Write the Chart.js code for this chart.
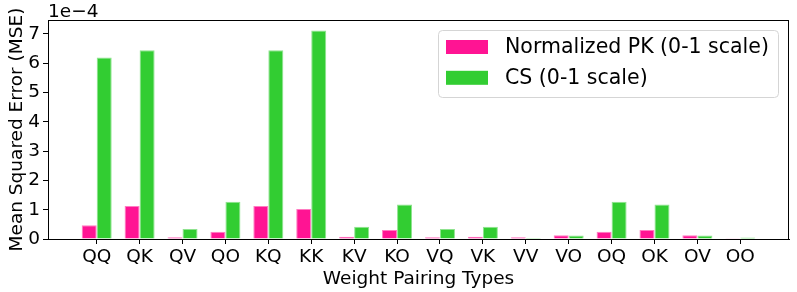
<!DOCTYPE html>
<html>
<head>
<meta charset="utf-8">
<script src="https://cdn.jsdelivr.net/npm/chart.js@4.4.1/dist/chart.umd.min.js"></script>
<style>
html,body{margin:0;padding:0;background:#fff;}
#wrap{width:797px;height:292px;}
</style>
</head>
<body>
<div id="wrap"><canvas id="c" width="797" height="292"></canvas></div>
<script>
// ---- data (values in units of 1e-4) ----
const categories = ["QQ","QK","QV","QO","KQ","KK","KV","KO","VQ","VK","VV","VO","OQ","OK","OV","OO"];
const pkValues = [0.47,1.13,0.06,0.25,1.13,1.02,0.08,0.31,0.06,0.08,0.06,0.13,0.25,0.31,0.13,0.005];
const csValues = [6.20,6.44,0.34,1.27,6.44,7.12,0.42,1.18,0.34,0.42,0.03,0.12,1.27,1.18,0.12,0.05];
const seriesLabels = ["Normalized PK (0-1 scale)", "CS (0-1 scale)"];
const yTickValues = [0,1,2,3,4,5,6,7];
const offsetText = "1e\u22124";
const xTitle = "Weight Pairing Types";
const yTitle = "Mean Squared Error (MSE)";

const FONT = "'DejaVu Sans', sans-serif";
const colors = ["#ff1493", "#32cd32"];
const edgeColors = ["#ff7cc2", "#8fe38f"];

const toPts = arr => arr.map((v, i) => ({x: i, y: v}));

const framePlugin = {
  id: 'frame',
  afterDraw(chart) {
    const {ctx, chartArea: a} = chart;
    ctx.save();
    ctx.strokeStyle = '#000';
    ctx.lineWidth = 1;
    ctx.strokeRect(a.left + 0.5, a.top + 0.5, a.right - a.left - 1, a.bottom - a.top);
    // offset text
    ctx.fillStyle = '#000';
    ctx.font = "18.5px " + FONT;
    ctx.textAlign = 'left';
    ctx.textBaseline = 'alphabetic';
    ctx.fillText(offsetText, a.left, a.top - 3);
    // legend
    const lx = 438.5, ly = 30.5, lw = 340, lh = 67;
    ctx.beginPath();
    ctx.roundRect(lx, ly, lw, lh, 4);
    ctx.fillStyle = 'rgba(255,255,255,0.8)';
    ctx.fill();
    ctx.strokeStyle = '#d5d5d5';
    ctx.stroke();
    ctx.font = "20.5px " + FONT;
    ctx.textBaseline = 'middle';
    chart.data.datasets.forEach((ds, i) => {
      const cy = 47 + i * 30.8;
      ctx.fillStyle = ds.backgroundColor;
      ctx.fillRect(446, cy - 7, 42, 14);
      ctx.fillStyle = '#000';
      ctx.fillText(ds.label, 505, cy + 1);
    });
    ctx.restore();
  }
};

new Chart(document.getElementById('c'), {
  type: 'bar',
  data: {
    datasets: [
      {label: seriesLabels[0], data: toPts(pkValues), backgroundColor: colors[0], borderColor: edgeColors[0], borderWidth: 1},
      {label: seriesLabels[1], data: toPts(csValues), backgroundColor: colors[1], borderColor: edgeColors[1], borderWidth: 1}
    ]
  },
  options: {
    responsive: false,
    devicePixelRatio: 1,
    animation: false,
    layout: {padding: {top: 20, right: 8, left: 0, bottom: 0}},
    datasets: {bar: {categoryPercentage: 0.7, barPercentage: 1.0}},
    plugins: {legend: {display: false}, tooltip: {enabled: false}},
    scales: {
      x: {
        type: 'linear',
        min: -1.135,
        max: 16.135,
        offset: false,
        afterBuildTicks: s => { s.ticks = categories.map((_, i) => ({value: i})); },
        afterFit: s => { s.height = 53; },
        grid: {offset: false, drawOnChartArea: false, drawTicks: true, tickLength: 5, tickColor: '#000'},
        border: {display: true, color: '#000', width: 1},
        ticks: {
          autoSkip: false, maxRotation: 0, minRotation: 0,
          color: '#000', padding: 2,
          font: {family: FONT, size: 18.5},
          callback: v => categories[v] ?? ''
        },
        title: {display: true, text: xTitle, color: '#000', font: {family: FONT, size: 18.5}, padding: {top: 0, bottom: 2}}
      },
      y: {
        type: 'linear',
        min: 0,
        max: 7.476,
        afterBuildTicks: s => { s.ticks = yTickValues.map(v => ({value: v})); },
        afterFit: s => { s.width = 48; },
        grid: {drawOnChartArea: false, drawTicks: true, tickLength: 5, tickColor: '#000'},
        border: {display: true, color: '#000', width: 1},
        ticks: {color: '#000', padding: 3, font: {family: FONT, size: 18.5}, callback: v => String(v)},
        title: {display: true, text: yTitle, color: '#000', font: {family: FONT, size: 18.5}, padding: {top: 6, bottom: 0}}
      }
    }
  },
  plugins: [framePlugin]
});
</script>
</body>
</html>
